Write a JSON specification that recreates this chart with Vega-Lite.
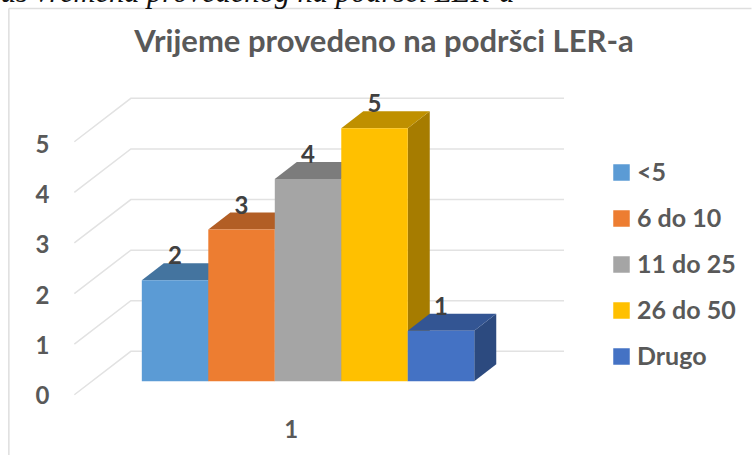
{
  "$schema": "https://vega.github.io/schema/vega-lite/v6.json",
  "autosize": {"type": "none"},
  "width": 490,
  "height": 297,
  "padding": {"left": 74, "top": 98, "right": 188, "bottom": 60},
  "background": "white",
  "title": {
    "text": "Vrijeme provedeno na podršci LER-a",
    "anchor": "middle",
    "dx": 65,
    "offset": -105,
    "baseline": "alphabetic",
    "font": "Lato",
    "fontSize": 31,
    "fontWeight": 700,
    "color": "#595959"
  },
  "datasets": {
    "bars": [
      {"series": "<5", "x": 0, "x2": 1, "mid": 0.5, "y": 2},
      {"series": "6 do 10", "x": 1, "x2": 2, "mid": 1.5, "y": 3},
      {"series": "11 do 25", "x": 2, "x2": 3, "mid": 2.5, "y": 4},
      {"series": "26 do 50", "x": 3, "x2": 4, "mid": 3.5, "y": 5},
      {"series": "Drugo", "x": 4, "x2": 5, "mid": 4.5, "y": 1}
    ],
    "grid": [
      {"level": 0, "x": -1.015, "y": -0.265}, {"level": 0, "x": -0.165, "y": 0.593}, {"level": 0, "x": 6.35, "y": 0.593},
      {"level": 1, "x": -1.015, "y": 0.735}, {"level": 1, "x": -0.165, "y": 1.593}, {"level": 1, "x": 6.35, "y": 1.593},
      {"level": 2, "x": -1.015, "y": 1.735}, {"level": 2, "x": -0.165, "y": 2.593}, {"level": 2, "x": 6.35, "y": 2.593},
      {"level": 3, "x": -1.015, "y": 2.735}, {"level": 3, "x": -0.165, "y": 3.593}, {"level": 3, "x": 6.35, "y": 3.593},
      {"level": 4, "x": -1.015, "y": 3.735}, {"level": 4, "x": -0.165, "y": 4.593}, {"level": 4, "x": 6.35, "y": 4.593},
      {"level": 5, "x": -1.015, "y": 4.735}, {"level": 5, "x": -0.165, "y": 5.593}, {"level": 5, "x": 6.35, "y": 5.593}
    ],
    "frame": [
      {"x": -2, "x2": -2, "y": -1.46, "y2": 7.37},
      {"x": -2, "x2": 9.17, "y": 7.37, "y2": 7.37}
    ],
    "sides": [
      {"series": "<5", "x": 1, "y": 2, "y2": 0}, {"series": "<5", "x": 1.331, "y": 2.336, "y2": 0.336},
      {"series": "6 do 10", "x": 2, "y": 3, "y2": 0}, {"series": "6 do 10", "x": 2.331, "y": 3.336, "y2": 0.336},
      {"series": "11 do 25", "x": 3, "y": 4, "y2": 0}, {"series": "11 do 25", "x": 3.331, "y": 4.336, "y2": 0.336},
      {"series": "26 do 50", "x": 4, "y": 5, "y2": 0}, {"series": "26 do 50", "x": 4.331, "y": 5.336, "y2": 0.336},
      {"series": "Drugo", "x": 5, "y": 1, "y2": 0}, {"series": "Drugo", "x": 5.331, "y": 1.336, "y2": 0.336}
    ],
    "tops": [
      {"series": "<5", "x": 0, "y": 2, "y2": 2}, {"series": "<5", "x": 0.331, "y": 2.336, "y2": 2}, {"series": "<5", "x": 1, "y": 2.336, "y2": 2}, {"series": "<5", "x": 1.331, "y": 2.336, "y2": 2.336},
      {"series": "6 do 10", "x": 1, "y": 3, "y2": 3}, {"series": "6 do 10", "x": 1.331, "y": 3.336, "y2": 3}, {"series": "6 do 10", "x": 2, "y": 3.336, "y2": 3}, {"series": "6 do 10", "x": 2.331, "y": 3.336, "y2": 3.336},
      {"series": "11 do 25", "x": 2, "y": 4, "y2": 4}, {"series": "11 do 25", "x": 2.331, "y": 4.336, "y2": 4}, {"series": "11 do 25", "x": 3, "y": 4.336, "y2": 4}, {"series": "11 do 25", "x": 3.331, "y": 4.336, "y2": 4.336},
      {"series": "26 do 50", "x": 3, "y": 5, "y2": 5}, {"series": "26 do 50", "x": 3.331, "y": 5.336, "y2": 5}, {"series": "26 do 50", "x": 4, "y": 5.336, "y2": 5}, {"series": "26 do 50", "x": 4.331, "y": 5.336, "y2": 5.336},
      {"series": "Drugo", "x": 4, "y": 1, "y2": 1}, {"series": "Drugo", "x": 4.331, "y": 1.336, "y2": 1}, {"series": "Drugo", "x": 5, "y": 1.336, "y2": 1}, {"series": "Drugo", "x": 5.331, "y": 1.336, "y2": 1.336}
    ],
    "caption": [
      {"x": -2.12, "y": 7.496, "label": "us vremena provedenog na podršci LER-a"}
    ]
  },
  "encoding": {
    "x": {
      "field": "x",
      "type": "quantitative",
      "scale": {"domain": [-1.02, 6.35], "nice": false, "zero": false},
      "axis": {
        "title": null,
        "values": [2.24],
        "labelExpr": "'1'",
        "grid": false,
        "ticks": false,
        "domain": false,
        "labelFont": "Lato",
        "labelFontSize": 24,
        "labelFontWeight": 700,
        "labelColor": "#595959",
        "labelBaseline": "middle",
        "labelPadding": 35
      }
    },
    "y": {
      "field": "y",
      "type": "quantitative",
      "scale": {"domain": [-0.27, 5.6], "nice": false, "zero": false},
      "axis": {
        "title": null,
        "values": [0, 1, 2, 3, 4, 5],
        "grid": false,
        "ticks": false,
        "domain": false,
        "labelFont": "Lato",
        "labelFontSize": 24,
        "labelFontWeight": 700,
        "labelColor": "#595959",
        "labelPadding": 25,
        "labelOffset": {"expr": "15 + 0.46 * datum.value"}
      }
    }
  },
  "layer": [
    {
      "data": {"name": "frame"},
      "mark": {"type": "rule", "color": "#dedede", "strokeWidth": 1.5},
      "encoding": {"x2": {"field": "x2"}, "y2": {"field": "y2"}}
    },
    {
      "data": {"name": "grid"},
      "mark": {"type": "line", "color": "#e2e2e2", "strokeWidth": 1.5},
      "encoding": {"detail": {"field": "level", "type": "nominal"}}
    },
    {
      "data": {"name": "caption"},
      "mark": {"type": "text", "align": "left", "baseline": "alphabetic", "font": "Liberation Serif", "fontStyle": "italic", "fontSize": 30.5, "color": "#111111"},
      "encoding": {"text": {"field": "label"}}
    },
    {
      "data": {"name": "sides"},
      "mark": {"type": "area"},
      "encoding": {
        "y": {"field": "y", "type": "quantitative", "stack": null, "scale": {"domain": [-0.27, 5.6], "nice": false, "zero": false}, "axis": {"title": null, "values": [0, 1, 2, 3, 4, 5], "grid": false, "ticks": false, "domain": false, "labelFont": "Lato", "labelFontSize": 24, "labelFontWeight": 700, "labelColor": "#595959", "labelPadding": 25, "labelOffset": {"expr": "15 + 0.46 * datum.value"}}},
        "y2": {"field": "y2"},
        "color": {
          "field": "series",
          "type": "nominal",
          "legend": null,
          "scale": {"domain": ["<5", "6 do 10", "11 do 25", "26 do 50", "Drugo"], "range": ["#3B6489", "#9A5120", "#6B6B6B", "#A67C00", "#2C4A7F"]}
        }
      }
    },
    {
      "data": {"name": "tops"},
      "mark": {"type": "area"},
      "encoding": {
        "y": {"field": "y", "type": "quantitative", "stack": null, "scale": {"domain": [-0.27, 5.6], "nice": false, "zero": false}, "axis": {"title": null, "values": [0, 1, 2, 3, 4, 5], "grid": false, "ticks": false, "domain": false, "labelFont": "Lato", "labelFontSize": 24, "labelFontWeight": 700, "labelColor": "#595959", "labelPadding": 25, "labelOffset": {"expr": "15 + 0.46 * datum.value"}}},
        "y2": {"field": "y2"},
        "color": {
          "field": "series",
          "type": "nominal",
          "legend": null,
          "scale": {"domain": ["<5", "6 do 10", "11 do 25", "26 do 50", "Drugo"], "range": ["#44749F", "#B25E25", "#7C7C7C", "#BF9000", "#335593"]}
        }
      }
    },
    {
      "data": {"name": "bars"},
      "mark": {"type": "rect"},
      "encoding": {
        "x2": {"field": "x2"},
        "y2": {"datum": 0},
        "color": {
          "field": "series",
          "type": "nominal",
          "scale": {"domain": ["<5", "6 do 10", "11 do 25", "26 do 50", "Drugo"], "range": ["#5B9BD5", "#ED7D31", "#A5A5A5", "#FFC000", "#4472C4"]},
          "legend": {
            "title": null,
            "orient": "none",
            "legendX": 535,
            "legendY": 62,
            "symbolType": "square",
            "symbolSize": 272,
            "symbolStrokeWidth": 0,
            "symbolOpacity": 1,
            "labelFont": "Lato",
            "labelFontSize": 25,
            "labelFontWeight": 700,
            "labelColor": "#595959",
            "labelOffset": 3,
            "rowPadding": 20
          }
        }
      }
    },
    {
      "data": {"name": "bars"},
      "mark": {"type": "text", "dy": -23, "baseline": "middle", "font": "Lato", "fontSize": 24, "fontWeight": 700, "color": "#404040"},
      "encoding": {
        "x": {"field": "mid", "type": "quantitative", "scale": {"domain": [-1.02, 6.35], "nice": false, "zero": false}},
        "text": {"field": "y", "type": "quantitative"}
      }
    }
  ],
  "resolve": {"scale": {"color": "independent"}},
  "config": {"view": {"stroke": null}}
}
